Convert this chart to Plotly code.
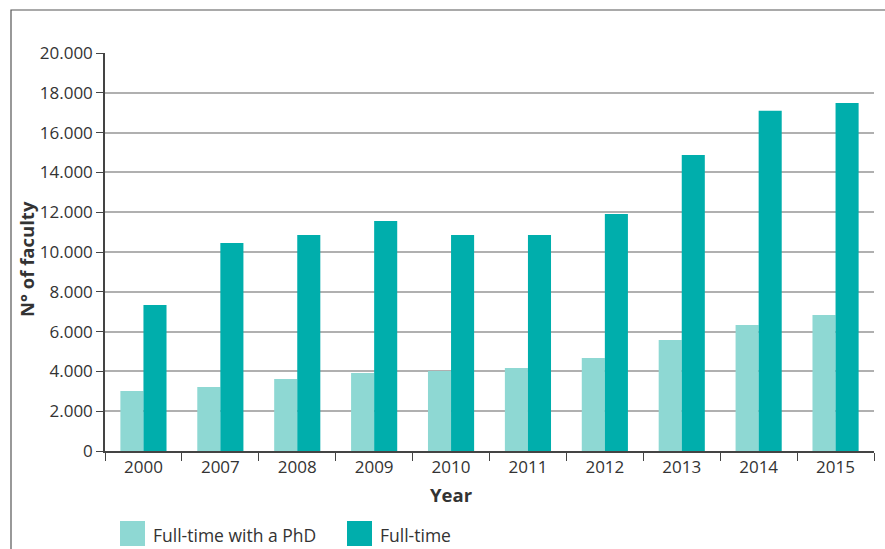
import plotly.graph_objects as go

years = ["2000", "2007", "2008", "2009", "2010", "2011", "2012", "2013", "2014", "2015"]
phd = [3010, 3220, 3620, 3920, 4020, 4170, 4670, 5580, 6330, 6830]
full_time = [7340, 10450, 10850, 11560, 10850, 10850, 11910, 14870, 17100, 17490]
series_names = ["Full-time with a PhD", "Full-time"]
y_ticks = [0, 2000, 4000, 6000, 8000, 10000, 12000, 14000, 16000, 18000, 20000]
y_tick_labels = ["0", "2.000", "4.000", "6.000", "8.000", "10.000", "12.000",
                 "14.000", "16.000", "18.000", "20.000"]

LIGHT = "#8ED8D3"
DARK = "#00AEAC"
TXT = "#333333"
FONT = "Open Sans"

W, H = 885, 549
L, R, T, B = 105, 11, 53, 98
pw, ph = W - L - R, H - T - B

def px(x):
    return (x - L) / pw

def py(y):
    return (H - B - y) / ph

fig = go.Figure()
fig.add_trace(go.Bar(x=years, y=phd, name=series_names[0], marker_color=LIGHT, marker_line_width=0))
fig.add_trace(go.Bar(x=years, y=full_time, name=series_names[1], marker_color=DARK, marker_line_width=0))

fig.update_layout(
    width=W, height=H,
    margin=dict(l=L, r=R, t=T, b=B),
    paper_bgcolor="white", plot_bgcolor="white",
    barmode="group", bargap=0.4, bargroupgap=0,
    showlegend=False,
    font=dict(family=FONT, color=TXT, size=17),
)
fig.update_xaxes(
    type="category", tickson="boundaries", ticks="outside", ticklen=8, tickwidth=1.2,
    tickcolor="#444", showline=True, linecolor="#444", linewidth=1.5,
    showgrid=False, tickfont=dict(size=17, color=TXT, family=FONT),
)
fig.update_yaxes(
    range=[0, 20000], tickvals=y_ticks, ticktext=y_tick_labels,
    ticks="outside", ticklen=7, tickwidth=1.2, tickcolor="#444",
    showline=True, linecolor="#444", linewidth=1.5,
    showgrid=True, gridcolor="#B0B0B0", gridwidth=1.5, zeroline=False,
    tickfont=dict(size=17, color=TXT, family=FONT),
)

# Outer frame
fig.add_shape(type="rect", xref="paper", yref="paper",
              x0=px(11), x1=px(W + 20), y0=py(H + 20), y1=py(10),
              line=dict(color="#555", width=1.2), fillcolor="rgba(0,0,0,0)", layer="below")

# Axis titles
fig.add_annotation(text="<b>Year</b>", xref="paper", yref="paper", x=px(451), y=py(494),
                   xanchor="center", yanchor="middle",
                   showarrow=False, font=dict(size=18.5, color=TXT, family=FONT))
fig.add_annotation(text="<b>N° of faculty</b>", xref="paper", yref="paper", x=px(26), y=py(259),
                   xanchor="center", yanchor="middle",
                   textangle=-90, showarrow=False, font=dict(size=18.5, color=TXT, family=FONT))

# Legend (custom, larger swatches)
legend_items = [(120, series_names[0], LIGHT), (347, series_names[1], DARK)]
for x0, name, col in legend_items:
    fig.add_shape(type="rect", xref="paper", yref="paper",
                  x0=px(x0), x1=px(x0 + 25), y0=py(546), y1=py(521),
                  line=dict(width=0), fillcolor=col)
    fig.add_annotation(text=name, xref="paper", yref="paper", x=px(x0 + 31), y=py(535),
                       xanchor="left", yanchor="middle",
                       showarrow=False, font=dict(size=17.5, color=TXT, family=FONT))

fig.write_html("out.html", config={"displayModeBar": False},
               post_script="document.body.style.margin='0';")
